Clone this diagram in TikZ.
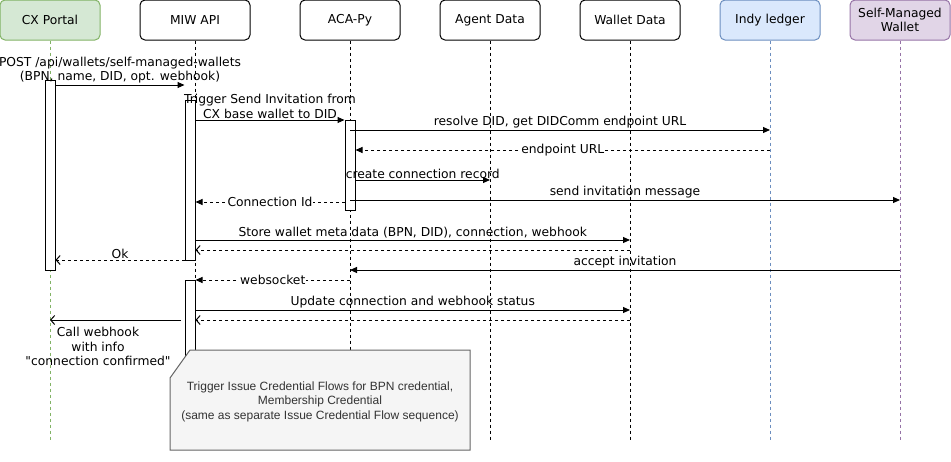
\documentclass[tikz,border=0pt]{standalone}
\usepackage{fontspec}
\setmainfont{DejaVu Sans}
\newfontfamily\notefont{Liberation Sans}
\usepackage{tikz}
\usetikzlibrary{arrows.meta,positioning,calc}
\newcommand\dq{\XeTeXglyph\XeTeXcharglyph"22\relax}
\definecolor{cxfill}{HTML}{D5E8D4}
\definecolor{cxline}{HTML}{82B366}
\definecolor{indyfill}{HTML}{DAE8FC}
\definecolor{indyline}{HTML}{6C8EBF}
\definecolor{smwfill}{HTML}{E1D5E7}
\definecolor{smwline}{HTML}{9673A6}
\definecolor{notefill}{HTML}{F5F5F5}
\definecolor{noteline}{HTML}{666666}
\definecolor{notetext}{HTML}{333333}
\tikzset{
	actor/.style={draw, rounded corners=5pt, minimum width=100pt, minimum height=40pt,
		inner sep=0pt, align=center, font=\fontsize{12.3}{14.5}\selectfont},
	life/.style={dash pattern=on 3pt off 3pt},
	act/.style={draw, fill=white, minimum width=10pt, inner sep=0pt},
	msg/.style={-{Triangle[length=7pt,width=6pt]}},
	ret/.style={dash pattern=on 3pt off 3pt, -{Triangle[length=7pt,width=6pt]}},
	back/.style={dash pattern=on 3pt off 3pt, -{Straight Barb[length=4pt,width=9pt]}},
	lbl/.style={font=\fontsize{12.3}{14.5}\selectfont, inner sep=1pt, align=center}
}
\begin{document}
\begin{tikzpicture}[x=1pt,y=-1pt,line width=1pt]
\useasboundingbox (0,0) rectangle (951,461);

%Teilnehmer
\node[actor, fill=cxfill, draw=cxline] (cx) at (50,20) {CX Portal};
\node[actor, minimum width=110pt] (miw) at (195,20) {MIW API};
\node[actor] (aca) at (350,20) {ACA-Py};
\node[actor] (agent) at (490,20) {Agent Data};
\node[actor] (wallet) at (630,20) {Wallet Data};
\node[actor, fill=indyfill, draw=indyline] (indy) at (770,20) {Indy ledger};
\node[actor, fill=smwfill, draw=smwline] (smw) at (900,20) {Self-Managed\\Wallet};

%Lebenslinien
\foreach \a/\c in {cx/cxline, miw/black, aca/black, agent/black, wallet/black, indy/indyline, smw/smwline}
	\draw[life, draw=\c] (\a.south) -- (\a.south |- 0,440);

%Aktivierungen
\node[act, minimum height=190pt] (cxbar) at (50,175) {};
\node[act, minimum height=160pt] (miwbar1) at (190,180) {};
\node[act, minimum height=90pt] (acabar) at (350,165) {};
\node[act, minimum height=100pt] (miwbar2) at (190,330) {};

%Nachrichten
\draw[msg] (cxbar.east |- 0,85) -- node[lbl, above] {POST /api/wallets/self-managed-wallets\\(BPN, name, DID, opt. webhook)} (miwbar1.west |- 0,85);
\draw[msg] (miwbar1.east |- 0,120) -- node[lbl, above] {Trigger Send Invitation from\\CX base wallet to DID} (acabar.west |- 0,120);
\draw[msg] (aca |- 0,130) -- node[lbl, above] {resolve DID, get DIDComm endpoint URL} (indy |- 0,130);
\draw[ret] (indy |- 0,150) -- node[lbl, fill=white] {endpoint URL} (acabar.east |- 0,150);
\draw[msg] (acabar.east |- 0,180) -- node[lbl, above] {create connection record} (agent |- 0,180);
\draw[msg] (aca |- 0,200) -- node[lbl, above] {send invitation message} (smw |- 0,200);
\draw[ret] (acabar.west |- 0,202) -- node[lbl, fill=white] {Connection Id} (miwbar1.east |- 0,202);
\draw[msg] (miwbar1.east |- 0,240) -- node[lbl, above] {Store wallet meta data (BPN, DID), connection, webhook} (wallet |- 0,240);
\draw[back] (wallet |- 0,250) -- (miwbar1.east |- 0,250);
\draw[back] (miwbar1.west |- 0,260) -- node[lbl, above] {Ok} (cxbar.east |- 0,260);
\draw[msg] (smw |- 0,270) -- node[lbl, above] {accept invitation} (aca |- 0,270);
\draw[ret] (aca |- 0,280) -- node[lbl, fill=white] {websocket} (miwbar2.east |- 0,280);
\draw[msg] (miwbar2.east |- 0,310) -- node[lbl, above] {Update connection and webhook status} (wallet |- 0,310);
\draw[back] (wallet |- 0,320) -- (miwbar2.east |- 0,320);
\coordinate (hook) at (181,320);
\draw[back, solid] (hook) -- (cx |- 0,320);
\node[lbl, anchor=north] (hooklbl) at (98,326) {Call webhook\\with info\\\dq connection confirmed\dq};

%Notiz
\filldraw[fill=notefill, draw=noteline] (190,350) -- (470,350) -- (470,450) -- (170,450) -- (170,378) -- cycle;
\node[font=\notefont\fontsize{12}{14.5}\selectfont, text=notetext, align=center] (note) at (320,401.5)
	{Trigger Issue Credential Flows for BPN credential,\\Membership Credential\\(same as separate Issue Credential Flow sequence)};

\end{tikzpicture}
\end{document}
